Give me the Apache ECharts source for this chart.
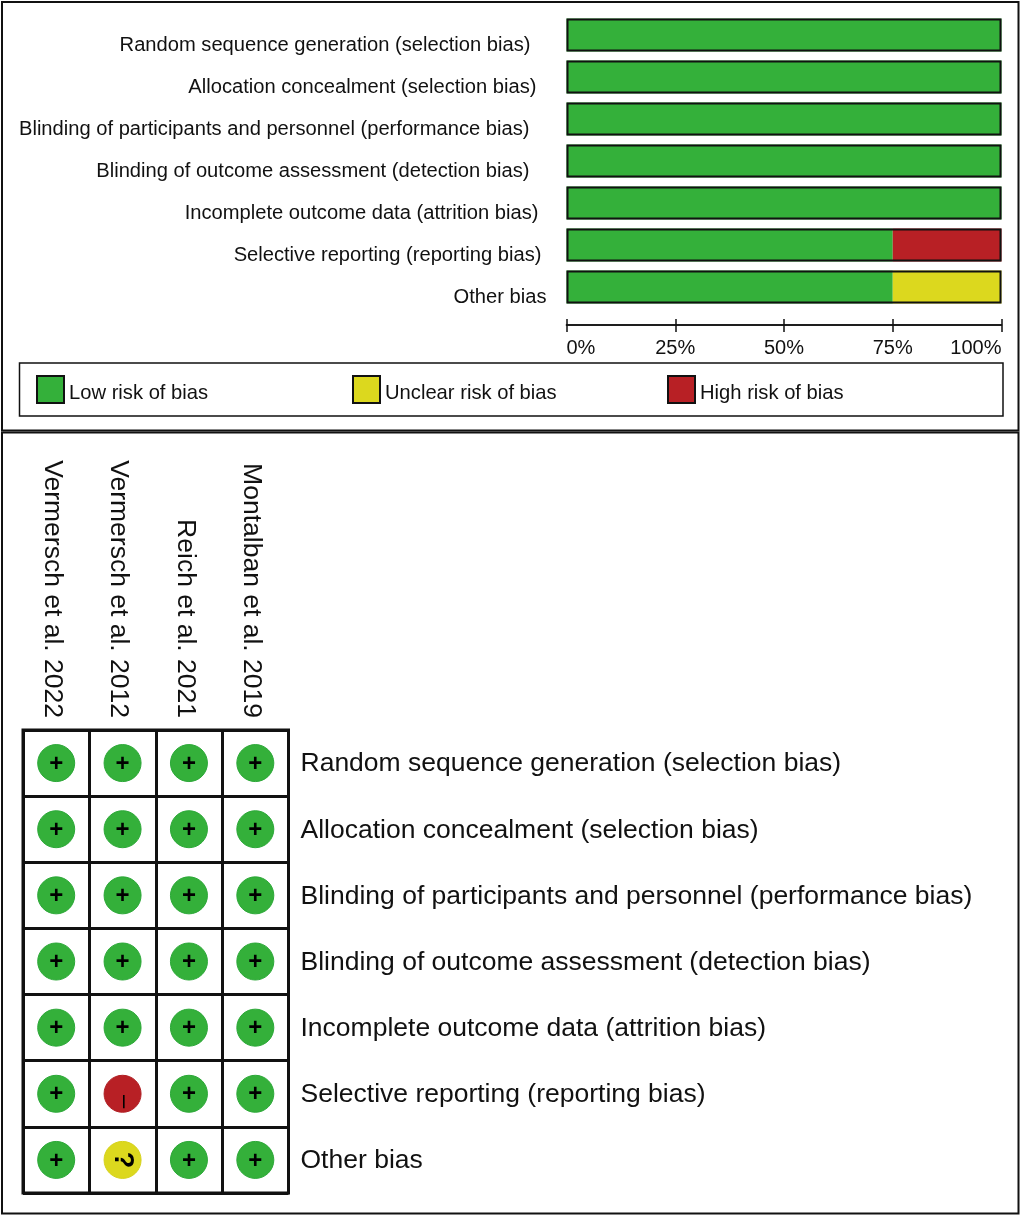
<!DOCTYPE html>
<html><head><meta charset="utf-8">
<style>html,body{margin:0;padding:0;background:#fff}#c{width:1021px;height:1216px}</style>
<script src="https://cdn.jsdelivr.net/npm/echarts@6/dist/echarts.min.js"></script>
</head><body><div id="c"></div>
<script>
const domains = ['Random sequence generation (selection bias)','Allocation concealment (selection bias)','Blinding of participants and personnel (performance bias)','Blinding of outcome assessment (detection bias)','Incomplete outcome data (attrition bias)','Selective reporting (reporting bias)','Other bias'];
const lowRisk = [100,100,100,100,100,75,75];
const unclearRisk = [0,0,0,0,0,0,25];
const highRisk = [0,0,0,0,0,25,0];
const totals = [100,100,100,100,100,100,100];
const xTicks = [0,25,50,75,100];
const legendNames = ['Low risk of bias','Unclear risk of bias','High risk of bias'];
const studies = ['Vermersch et al. 2022','Vermersch et al. 2012','Reich et al. 2021','Montalban et al. 2019'];
const vermersch2022 = ['+','+','+','+','+','+','+'];
const vermersch2012 = ['+','+','+','+','+','-','?'];
const reich2021 = ['+','+','+','+','+','+','+'];
const montalban2019 = ['+','+','+','+','+','+','+'];
const judgements = [vermersch2022, vermersch2012, reich2021, montalban2019];
const FONT = '"Liberation Sans", Arial, sans-serif';
const GREEN='#34b03a', YELLOW='#dcd81e', RED='#b82025';
const fillOf = {'+':GREEN,'-':RED,'?':YELLOW};
const edgeOf = {'+':'#2ca838','-':'#b01f24','?':'#d6d21c'};
const labelPad = [16,10,17,17,8,5,0]; // uneven right edge of the labels in the reference
const rich = {};
labelPad.forEach((p,i)=>{rich['l'+i]={fontFamily:FONT,fontSize:20.15,color:'#111',padding:[20,p,0,0]};});
const pts = [];
judgements.forEach((col,c)=>col.forEach((v,r)=>pts.push({
  value:[studies[c],domains[r]], sym:v,
  itemStyle:{color:fillOf[v],borderColor:edgeOf[v],borderWidth:1,opacity:1},
  label: v==='+' ? {formatter:'+',fontSize:24,fontWeight:'bold',offset:[0,1]}
       : v==='-' ? {formatter:'–',fontSize:24,rotate:-90,offset:[8,-2]}
       : {formatter:'?',fontSize:27,fontWeight:'bold',rotate:-90,offset:[0,0]}
})));
const frame = (x,y,w,h,lw)=>({type:'rect',shape:{x,y,width:w,height:h},style:{fill:'none',stroke:'#111',lineWidth:lw},z:0,silent:true});
const chart = echarts.init(document.getElementById('c'),null,{renderer:'canvas'});
const axisX = {type:'value',gridIndex:0,min:0,max:100,interval:25,position:'bottom',offset:17,
  axisLine:{show:true,lineStyle:{color:'#111',width:1.5}},splitLine:{show:false}};
const legendAt = (i,left)=>({left,top:375,padding:0,itemWidth:27,itemHeight:27,icon:'rect',data:[legendNames[i]],
  itemStyle:{borderColor:'#111',borderWidth:2},selectedMode:false,
  formatter:'{a|{name}}',
  textStyle:{rich:{a:{fontFamily:FONT,fontSize:20.2,color:'#111',padding:[8,0,0,0]}}}});
chart.setOption({
  animation:false,
  backgroundColor:'#fff',
  graphic:[frame(2,2,1016.5,428.5,2),frame(2,432.5,1016.5,781,2),frame(19.5,363,983.5,53,1.5)],
  legend:[legendAt(0,36),legendAt(1,352),legendAt(2,667)],
  grid:[{left:566.5,top:14,width:435,height:294},{left:23,top:730,width:265.5,height:463,show:true,borderColor:'#111',borderWidth:3,backgroundColor:'transparent'}],
  xAxis:[
    Object.assign({},axisX,{axisTick:{show:true,length:7,lineStyle:{color:'#111',width:1.5}},
      axisLabel:{show:true,margin:13,fontFamily:FONT,fontSize:20,color:'#111',alignMinLabel:'left',alignMaxLabel:'right',formatter:v=>xTicks.includes(v)?v+'%':''}}),
    Object.assign({},axisX,{axisTick:{show:true,inside:true,length:6,lineStyle:{color:'#111',width:1.5}},axisLabel:{show:false}}),
    {type:'category',gridIndex:1,position:'top',data:studies,axisLine:{show:false},axisTick:{show:false},
      splitLine:{show:true,lineStyle:{color:'#111',width:3}},
      axisLabel:{rotate:90,margin:12,interval:0,formatter:v=>`{s|${v}}`,
        rich:{s:{fontFamily:FONT,fontSize:26.5,color:'#111',padding:[8,0,0,0]}}}}
  ],
  yAxis:[
    {type:'category',gridIndex:0,inverse:true,data:domains,axisLine:{show:false},axisTick:{show:false},
      axisLabel:{interval:0,margin:20,formatter:(v,i)=>`{l${i}|${v}}`,rich}},
    {type:'category',gridIndex:1,inverse:true,position:'right',data:domains,axisLine:{show:false},axisTick:{show:false},
      splitLine:{show:true,lineStyle:{color:'#111',width:3}},
      axisLabel:{interval:0,margin:12,formatter:v=>`{d|${v}}`,
        rich:{d:{fontFamily:FONT,fontSize:26.5,color:'#111',padding:[2,0,0,0]}}}}
  ],
  series:[
    {name:legendNames[0],type:'bar',stack:'r',barWidth:33,xAxisIndex:0,yAxisIndex:0,data:lowRisk,itemStyle:{color:GREEN}},
    {name:legendNames[1],type:'bar',stack:'r',barWidth:33,xAxisIndex:0,yAxisIndex:0,data:unclearRisk,itemStyle:{color:YELLOW}},
    {name:legendNames[2],type:'bar',stack:'r',barWidth:33,xAxisIndex:0,yAxisIndex:0,data:highRisk,itemStyle:{color:RED}},
    {name:'outline',type:'bar',barWidth:33,barGap:'-100%',xAxisIndex:0,yAxisIndex:0,data:totals,silent:true,z:5,
      itemStyle:{color:'transparent',borderColor:'#111',borderWidth:2}},
    {name:'judgement',type:'scatter',xAxisIndex:2,yAxisIndex:1,symbol:'circle',symbolSize:37,data:pts,silent:true,z:6,
      label:{show:true,position:'inside',color:'#000',fontFamily:FONT}}
  ]
});
</script></body></html>
